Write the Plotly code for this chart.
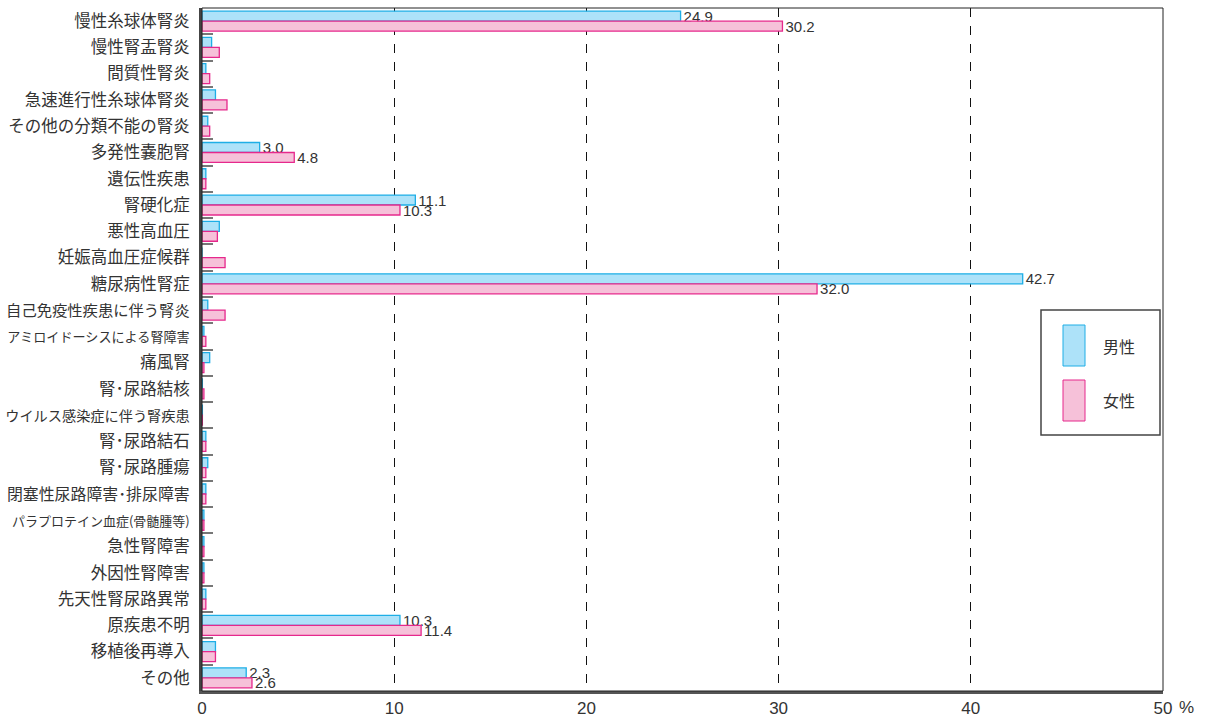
import plotly.graph_objects as go

categories = [
    "慢性糸球体腎炎", "慢性腎盂腎炎", "間質性腎炎", "急速進行性糸球体腎炎",
    "その他の分類不能の腎炎", "多発性嚢胞腎", "遺伝性疾患", "腎硬化症",
    "悪性高血圧", "妊娠高血圧症候群", "糖尿病性腎症", "自己免疫性疾患に伴う腎炎",
    "アミロイドーシスによる腎障害", "痛風腎", "腎･尿路結核", "ウイルス感染症に伴う腎疾患",
    "腎･尿路結石", "腎･尿路腫瘍", "閉塞性尿路障害･排尿障害", "パラプロテイン血症(骨髄腫等)",
    "急性腎障害", "外因性腎障害", "先天性腎尿路異常", "原疾患不明", "移植後再導入", "その他",
]
male = [24.9, 0.5, 0.2, 0.7, 0.3, 3.0, 0.2, 11.1, 0.9, 0.0, 42.7, 0.3, 0.1, 0.4,
        0.02, 0.02, 0.2, 0.3, 0.2, 0.1, 0.1, 0.1, 0.2, 10.3, 0.7, 2.3]
female = [30.2, 0.9, 0.4, 1.3, 0.4, 4.8, 0.2, 10.3, 0.8, 1.2, 32.0, 1.2, 0.2, 0.1,
          0.1, 0.02, 0.2, 0.2, 0.2, 0.1, 0.1, 0.1, 0.2, 11.4, 0.7, 2.6]
male_labels = ["24.9", "", "", "", "", "3.0", "", "11.1", "", "", "42.7", "", "", "",
               "", "", "", "", "", "", "", "", "", "10.3", "", "2.3"]
female_labels = ["30.2", "", "", "", "", "4.8", "", "10.3", "", "", "32.0", "", "", "",
                 "", "", "", "", "", "", "", "", "", "11.4", "", "2.6"]
x_ticks = [0, 10, 20, 30, 40, 50]
x_ticktext = ["0", "10", "20", "30", "40", "50"]
legend_names = ["男性", "女性"]

MALE_FILL, MALE_LINE = "#ade2f9", "#1eaee6"
FEM_FILL, FEM_LINE = "#f6c1d9", "#e6288c"
NUM_FAMILY = "Liberation Sans Narrow, Liberation Sans, sans-serif"
NUM_FONT = dict(family=NUM_FAMILY, size=15, color="#333333")
JP_FONT = "Noto Sans CJK JP, Noto Sans, sans-serif"

# tick label text: shrink long labels so they fit the left margin like the reference
LABEL_SIZE = 16.5
LABEL_ROOM = 184.0
def fit_label(s):
    n = sum(0.55 if c in "()･" else 1.0 for c in s)
    size = min(LABEL_SIZE, LABEL_ROOM / n)
    if size >= LABEL_SIZE:
        return s
    return f'<span style="font-size:{size:.1f}px">{s}</span>'
tick_text = [fit_label(c) for c in categories]

fig = go.Figure()
fig.add_trace(go.Bar(
    y=categories, x=male, orientation="h", name=legend_names[0],
    marker=dict(color=MALE_FILL, line=dict(color=MALE_LINE, width=1.3)),
    text=male_labels, textposition="outside", textfont=NUM_FONT,
    constraintext="none", cliponaxis=False, hoverinfo="x+y",
))
fig.add_trace(go.Bar(
    y=categories, x=female, orientation="h", name=legend_names[1],
    marker=dict(color=FEM_FILL, line=dict(color=FEM_LINE, width=1.3)),
    text=female_labels, textposition="outside", textfont=NUM_FONT,
    constraintext="none", cliponaxis=False, hoverinfo="x+y",
))

fig.update_layout(
    width=1205, height=719,
    margin=dict(l=202, r=42, t=8, b=28, autoexpand=False),
    paper_bgcolor="white", plot_bgcolor="white",
    barmode="group", bargap=0.24, bargroupgap=0.0,
    showlegend=False,
    font=dict(family=JP_FONT, color="#333333"),
)
fig.update_xaxes(
    range=[0, 50], tickvals=x_ticks, ticktext=x_ticktext, automargin=False,
    showgrid=True, gridcolor="#111111", gridwidth=1, griddash="dash",
    zeroline=False, showline=True, linecolor="#555555", linewidth=3,
    ticks="", tickfont=dict(family=NUM_FAMILY, size=17, color="#333333"),
)
fig.update_yaxes(
    autorange="reversed", type="category", automargin=False,
    tickmode="array", tickvals=categories, ticktext=tick_text,
    showgrid=False, zeroline=False, showline=True, linecolor="#444444", linewidth=3,
    ticks="inside", tickson="boundaries", ticklen=11, tickwidth=2, tickcolor="#777777",
    tickfont=dict(family=JP_FONT, size=LABEL_SIZE, color="#333333"),
    ticklabelstandoff=6,
)

# plot border (top / right)
fig.add_shape(type="rect", xref="paper", yref="paper", x0=0, x1=1, y0=0, y1=1,
              line=dict(color="#222222", width=1), layer="above")

# percent sign after last tick
fig.add_annotation(text="%", xref="paper", yref="paper", x=1.0, y=0, xshift=33, yshift=-28,
                   showarrow=False, font=dict(family=NUM_FAMILY, size=17, color="#333333"))

# custom legend (tall swatches)
def px_x(p):
    return (p - 202) / (1163 - 202)

def px_y(p):
    return 1 - (p - 8) / (691 - 8)

fig.add_shape(type="rect", xref="paper", yref="paper",
              x0=px_x(1041), x1=px_x(1160), y0=px_y(435), y1=px_y(310),
              line=dict(color="#444444", width=1.5), fillcolor="white", layer="above")
fig.add_shape(type="rect", xref="paper", yref="paper",
              x0=px_x(1063), x1=px_x(1085), y0=px_y(366), y1=px_y(325),
              line=dict(color=MALE_LINE, width=1), fillcolor=MALE_FILL, layer="above")
fig.add_shape(type="rect", xref="paper", yref="paper",
              x0=px_x(1063), x1=px_x(1085), y0=px_y(421), y1=px_y(380),
              line=dict(color=FEM_LINE, width=1), fillcolor=FEM_FILL, layer="above")
fig.add_annotation(text=legend_names[0], xref="paper", yref="paper", x=px_x(1101), y=px_y(346),
                   xanchor="left", yanchor="middle", showarrow=False,
                   font=dict(family=JP_FONT, size=16, color="#333333"))
fig.add_annotation(text=legend_names[1], xref="paper", yref="paper", x=px_x(1101), y=px_y(400),
                   xanchor="left", yanchor="middle", showarrow=False,
                   font=dict(family=JP_FONT, size=16, color="#333333"))

fig.write_html("out.html")
